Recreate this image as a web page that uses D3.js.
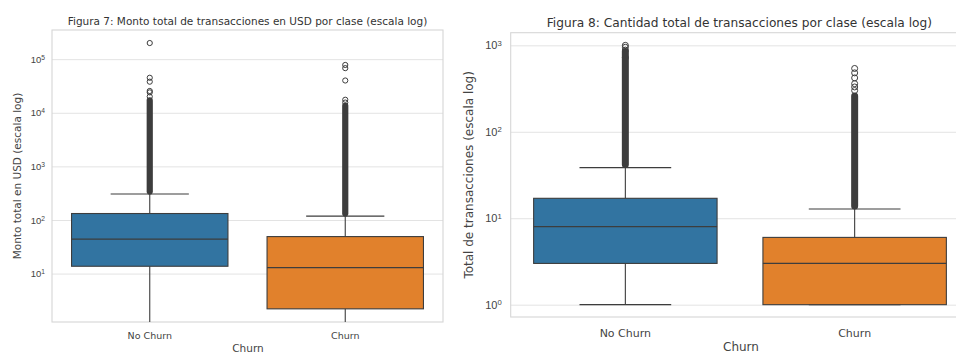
<!DOCTYPE html>
<html>
<head>
<meta charset="utf-8">
<script src="https://cdn.jsdelivr.net/npm/d3@7"></script>
<style>
  body { margin: 0; background: #fff; }
  svg { font-family: "DejaVu Sans", sans-serif; display: block; }
  .grid line { stroke: #e3e3e3; stroke-width: 1; }
  .frame { fill: none; stroke: #d6d6d6; stroke-width: 1.1; }
  .tick text { fill: #444; }
</style>
</head>
<body>
<div id="chart"></div>
<script>
// categorias
const clases = ["No Churn", "Churn"];

// Figura 7 - monto total USD
const montoBigoteInf = [1.0, 1.0];
const montoQ1 = [13.7, 2.2];
const montoMediana = [44, 12.9];
const montoQ3 = [132, 49];
const montoBigoteSup = [305, 118];
const montoDensoHasta = [17000, 13500];   // columna densa de outliers
const montoOutliers = [
    [20000, 24000, 25500, 38000, 45000, 200000],
    [15500, 17500, 40000, 68000, 78000]
];
const montoTicks = [1e1, 1e2, 1e3, 1e4, 1e5];

// Figura 8 - cantidad de transacciones
const cantBigoteInf = [1, 1];
const cantQ1 = [3, 1];
const cantMediana = [8, 3];
const cantQ3 = [17, 6];
const cantBigoteSup = [38.5, 12.8];
const cantDensoHasta = [850, 260];
const cantOutliers = [
    [720, 880, 950, 1000],
    [300, 330, 360, 420, 480, 540]
];
const cantTicks = [1e0, 1e1, 1e2, 1e3];

const colores = ["#3274a1", "#e1812c"];
const lineColor = "#3d3d3d";

const W = 956, H = 354;
const svg = d3.select("#chart").append("svg")
    .attr("width", W)
    .attr("height", H)
    .style("overflow", "hidden");

function boxPanel(cfg) {
    const g = svg.append("g");

    const x = d3.scaleBand().domain(clases).range([cfg.x0, cfg.x1]);
    const y = d3.scaleLog().domain(cfg.dominio).range([cfg.y1, cfg.y0]);

    g.append("clipPath")
        .attr("id", cfg.id)
        .append("rect")
        .attr("x", cfg.x0).attr("y", cfg.y0)
        .attr("width", cfg.x1 - cfg.x0).attr("height", cfg.y1 - cfg.y0);

    // grilla + etiquetas
    const yAxis = d3.axisLeft(y)
        .tickValues(cfg.ticks)
        .tickSizeInner(-(cfg.x1 - cfg.x0))
        .tickSizeOuter(0)
        .tickPadding(cfg.pad)
        .tickFormat("");
    const ax = g.append("g")
        .attr("class", "grid")
        .attr("transform", `translate(${cfg.x0},0)`)
        .call(yAxis);
    ax.select(".domain").remove();
    ax.selectAll(".tick text")
        .attr("font-size", cfg.tickFont)
        .each(function(d) {
            const t = d3.select(this);
            t.append("tspan").text("10");
            t.append("tspan")
                .attr("dy", "-0.45em")
                .attr("font-size", "0.7em")
                .text(String(Math.round(Math.log10(d))));
        });

    g.append("rect")
        .attr("class", "frame")
        .attr("x", cfg.x0).attr("y", cfg.y0)
        .attr("width", cfg.x1 - cfg.x0).attr("height", cfg.y1 - cfg.y0);

    const plot = g.append("g").attr("clip-path", `url(#${cfg.id})`);

    const bw = x.bandwidth() * 0.8;
    const cw = x.bandwidth() * 0.4;

    clases.forEach((c, i) => {
        const cx = x(c) + x.bandwidth() / 2;

        // bigotes
        plot.append("line")
            .attr("x1", cx).attr("x2", cx)
            .attr("y1", y(cfg.bInf[i])).attr("y2", y(cfg.q1[i]))
            .attr("stroke", lineColor).attr("stroke-width", 1.1);
        plot.append("line")
            .attr("x1", cx).attr("x2", cx)
            .attr("y1", y(cfg.q3[i])).attr("y2", y(cfg.bSup[i]))
            .attr("stroke", lineColor).attr("stroke-width", 1.1);
        [cfg.bInf[i], cfg.bSup[i]].forEach(v => {
            plot.append("line")
                .attr("x1", cx - cw / 2).attr("x2", cx + cw / 2)
                .attr("y1", y(v)).attr("y2", y(v))
                .attr("stroke", lineColor).attr("stroke-width", 1.1);
        });

        // columna densa de outliers
        plot.append("line")
            .attr("x1", cx).attr("x2", cx)
            .attr("y1", y(cfg.bSup[i]) - cfg.r)
            .attr("y2", y(cfg.denso[i]))
            .attr("stroke", lineColor)
            .attr("stroke-width", cfg.r * 2 + 1)
            .attr("stroke-linecap", "round");

        plot.selectAll(null)
            .data(cfg.outliers[i])
            .enter()
            .append("circle")
            .attr("cx", cx)
            .attr("cy", d => y(d))
            .attr("r", cfg.r)
            .attr("fill", "none")
            .attr("stroke", lineColor)
            .attr("stroke-width", 1);

        // caja
        plot.append("rect")
            .attr("x", cx - bw / 2)
            .attr("y", y(cfg.q3[i]))
            .attr("width", bw)
            .attr("height", y(cfg.q1[i]) - y(cfg.q3[i]))
            .attr("fill", colores[i])
            .attr("stroke", lineColor)
            .attr("stroke-width", 1.1);
        plot.append("line")
            .attr("x1", cx - bw / 2).attr("x2", cx + bw / 2)
            .attr("y1", y(cfg.med[i])).attr("y2", y(cfg.med[i]))
            .attr("stroke", lineColor).attr("stroke-width", 1.1);

        // etiqueta categoria
        g.append("text")
            .attr("x", cx)
            .attr("y", cfg.catY)
            .attr("font-size", cfg.tickFont)
            .attr("fill", "#444")
            .attr("text-anchor", "middle")
            .text(c);
    });

    // titulo
    g.append("text")
        .attr("x", (cfg.x0 + Math.min(cfg.x1, W)) / 2 + cfg.titleShift)
        .attr("y", cfg.titleY)
        .attr("font-size", cfg.titleFont)
        .attr("fill", "#333")
        .attr("text-anchor", "middle")
        .text(cfg.titulo);

    // ejes
    g.append("text")
        .attr("x", cfg.xLabelX)
        .attr("y", cfg.xLabelY)
        .attr("font-size", cfg.labelFont)
        .attr("fill", "#444")
        .attr("text-anchor", "middle")
        .text("Churn");

    g.append("text")
        .attr("transform", `translate(${cfg.yLabelX},${(cfg.y0 + cfg.y1) / 2}) rotate(-90)`)
        .attr("font-size", cfg.labelFont)
        .attr("fill", "#444")
        .attr("text-anchor", "middle")
        .attr("dy", "0.35em")
        .text(cfg.yLabel);
}

boxPanel({
    id: "clipMonto",
    x0: 52, x1: 443, y0: 30, y1: 322,
    dominio: [1.25, 3.5e5],
    ticks: montoTicks, pad: 7, tickFont: 9.5,
    bInf: montoBigoteInf, q1: montoQ1, med: montoMediana, q3: montoQ3, bSup: montoBigoteSup,
    denso: montoDensoHasta, outliers: montoOutliers, r: 2.6,
    catY: 338.5,
    titulo: "Figura 7: Monto total de transacciones en USD por clase (escala log)",
    titleY: 24.5, titleFont: 10.5, titleShift: 0,
    xLabelX: 248, xLabelY: 351.5, labelFont: 10.5,
    yLabelX: 17, yLabel: "Monto total en USD (escala log)"
});

boxPanel({
    id: "clipCant",
    x0: 510.7, x1: 969.3, y0: 32.7, y1: 317,
    dominio: [0.72, 1400],
    ticks: cantTicks, pad: 9, tickFont: 11,
    bInf: cantBigoteInf, q1: cantQ1, med: cantMediana, q3: cantQ3, bSup: cantBigoteSup,
    denso: cantDensoHasta, outliers: cantOutliers, r: 3,
    catY: 336.5,
    titulo: "Figura 8: Cantidad total de transacciones por clase (escala log)",
    titleY: 26.5, titleFont: 12.2, titleShift: 6,
    xLabelX: 741, xLabelY: 350.5, labelFont: 12,
    yLabelX: 469, yLabel: "Total de transacciones (escala log)"
});
</script>
</body>
</html>
